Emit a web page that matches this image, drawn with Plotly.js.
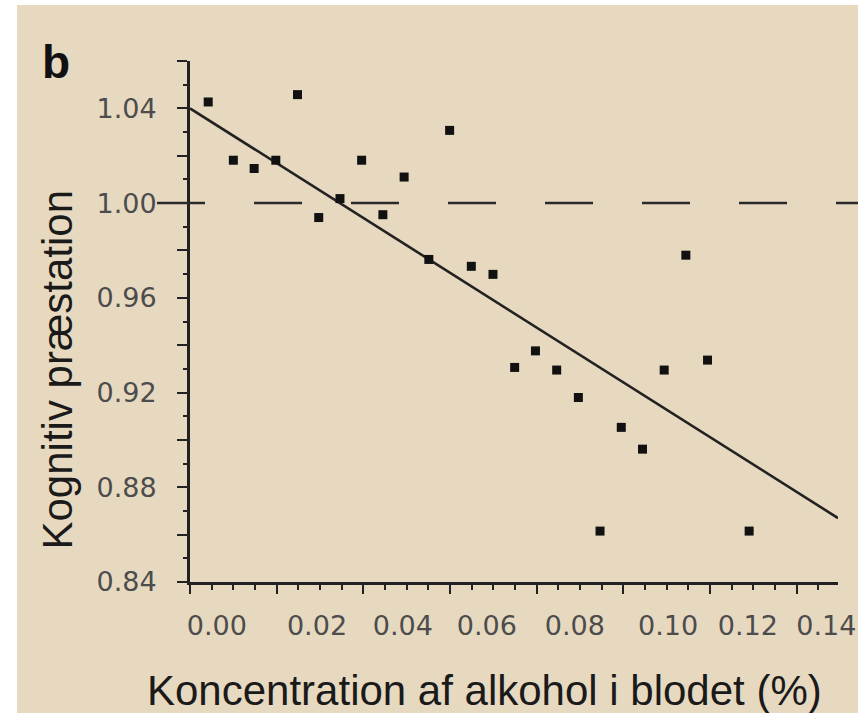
<!DOCTYPE html>
<html>
<head>
<meta charset="utf-8">
<script src="https://cdn.plot.ly/plotly-3.0.1.min.js"></script>
<style>
  html, body { margin: 0; padding: 0; background: #ffffff; width: 858px; height: 713px; overflow: hidden; }
  #chart { position: absolute; left: 17px; top: 5px; width: 841px; height: 708px; }
</style>
</head>
<body>
<div id="chart"></div>
<script>
// Blood alcohol concentration (%) for each measurement
const alcohol = [0.0042, 0.0100, 0.0148, 0.0198, 0.0248, 0.0297, 0.0346, 0.0396, 0.0445, 0.0494,
                 0.0551, 0.0599, 0.0649, 0.0699, 0.0749, 0.0797, 0.0846, 0.0896, 0.0946, 0.0995,
                 0.1044, 0.1094, 0.1144, 0.1194, 0.1290];
// Relative cognitive performance at each concentration
const performance = [1.0427, 1.0181, 1.0146, 1.0181, 1.0458, 0.9939, 1.0019, 1.0181, 0.9951, 1.0110,
                     0.9762, 1.0307, 0.9733, 0.9699, 0.9306, 0.9376, 0.9295, 0.9179, 0.8615, 0.9053,
                     0.8961, 0.9295, 0.9780, 0.9337, 0.8615];
// Fitted regression line end points
const fitX = [0, 0.1495];
const fitY = [1.040, 0.867];
// Baseline performance level
const baseline = 1.00;

// Axis labels
const xTickText = ['0.00', '0.02', '0.04', '0.06', '0.08', '0.10', '0.12', '0.14'];
const xLabelPos = [0.0062, 0.0293, 0.0491, 0.0685, 0.0888, 0.1103, 0.1287, 0.1468];
const yTickVals = [0.84, 0.86, 0.88, 0.90, 0.92, 0.94, 0.96, 0.98, 1.00, 1.02, 1.04, 1.06];
const yTickText = ['0.84', '', '0.88', '', '0.92', '', '0.96', '', '1.00', '', '1.04', ''];

const ink = '#222222';
const labelFont = { family: 'DejaVu Sans', size: 27, color: '#4c4c4c' };
const titleFont = { family: 'Liberation Sans, Arial, sans-serif', size: 42, color: '#1a1a1a' };
const xRange = [0, 0.1495];

const traces = [
  {
    type: 'scatter', mode: 'lines',
    x: fitX, y: fitY,
    xaxis: 'x', yaxis: 'y',
    line: { color: ink, width: 2.6 },
    cliponaxis: false, hoverinfo: 'skip', showlegend: false
  },
  {
    type: 'scatter', mode: 'markers',
    x: alcohol, y: performance,
    xaxis: 'x2', yaxis: 'y',
    marker: { symbol: 'square', size: 9, color: '#111111' },
    cliponaxis: false, showlegend: false
  }
];

const layout = {
  width: 841, height: 708,
  margin: { l: 173, r: 20, t: 56, b: 131 },
  paper_bgcolor: '#E7D9C0',
  plot_bgcolor: 'rgba(0,0,0,0)',
  showlegend: false,
  xaxis: {
    range: xRange,
    tickmode: 'linear', tick0: 0, dtick: 0.02,
    ticks: 'outside', ticklen: 9, tickwidth: 2, tickcolor: ink,
    showticklabels: false,
    showline: true, linewidth: 3, linecolor: ink,
    showgrid: false, zeroline: false,
    minor: { tickmode: 'linear', tick0: 0, dtick: 0.005, ticks: 'outside', ticklen: 5, tickwidth: 2, tickcolor: ink, showgrid: false }
  },
  xaxis2: {
    overlaying: 'x', anchor: 'y', side: 'bottom',
    range: xRange,
    tickmode: 'array', tickvals: xLabelPos, ticktext: xTickText,
    ticks: '', showline: false, showgrid: false, zeroline: false,
    tickfont: labelFont, ticklabelstandoff: 25,
    ticklabeloverflow: 'allow'
  },
  yaxis: {
    range: [0.84, 1.06],
    tickmode: 'array', tickvals: yTickVals, ticktext: yTickText,
    ticks: 'outside', ticklen: 10, tickwidth: 2, tickcolor: ink,
    showline: true, linewidth: 3, linecolor: ink,
    showgrid: false, zeroline: false,
    tickfont: labelFont, ticklabelstandoff: 15,
    minor: { tickmode: 'linear', tick0: 0.84, dtick: 0.01, ticks: 'outside', ticklen: 4, tickwidth: 2, tickcolor: ink, showgrid: false }
  },
  shapes: [
    {
      type: 'line', xref: 'paper', yref: 'y',
      x0: -0.0509, x1: 1.0309, y0: baseline, y1: baseline,
      line: { color: '#2a2a2a', width: 2.5, dash: '48px,49px' }
    }
  ],
  annotations: [
    {
      text: 'Koncentration af alkohol i blodet (%)',
      xref: 'paper', yref: 'paper', x: 0.4552, y: -0.2073,
      xanchor: 'center', yanchor: 'middle', showarrow: false,
      font: titleFont
    },
    {
      text: 'Kognitiv præstation',
      xref: 'paper', yref: 'paper', x: -0.2060, y: 0.4069,
      xanchor: 'center', yanchor: 'middle', textangle: -90, showarrow: false,
      font: titleFont
    },
    {
      text: '<b>b</b>',
      xref: 'paper', yref: 'paper', x: -0.2068, y: 0.998,
      xanchor: 'center', yanchor: 'middle', showarrow: false,
      font: { family: 'Liberation Sans, Arial, sans-serif', size: 46, color: '#111111' }
    }
  ]
};

Plotly.newPlot('chart', traces, layout, { staticPlot: true, displayModeBar: false });
</script>
</body>
</html>
